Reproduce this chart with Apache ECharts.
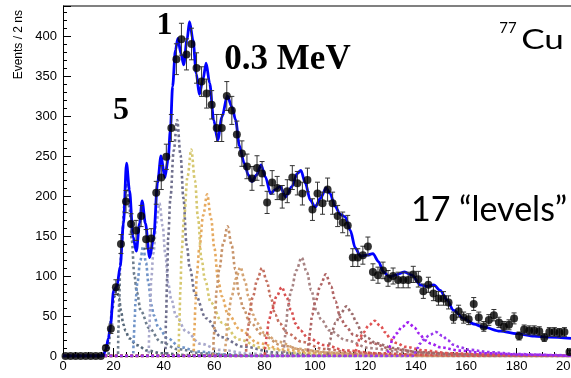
<!DOCTYPE html>
<html><head><meta charset="utf-8">
<script src="https://cdn.jsdelivr.net/npm/echarts@6/dist/echarts.min.js"></script>
<style>html,body{margin:0;padding:0;background:#fff}#c{width:571px;height:378px}</style>
</head><body><div id="c"></div>
<script>
// ---- data ----
const binCenters = [1,3,5,7,9,11,13,15,17,19,21,23,25,27,29,31,33,35,37,39,41,43,45,47,49,51,53,55,57,59,61,63,65,67,69,71,73,75,77,79,81,83,85,87,89,91,93,95,97,99,101,103,105,107,109,111,113,115,117,119,121,123,125,127,129,131,133,135,137,139,141,143,145,147,149,151,153,155,157,159,161,163,165,167,169,171,173,175,177,179,181,183,185,187,189,191,193,195,197,199,201];
const counts = [0,0,0,0,0,0,0,0,10,34,86,140,193,165,157,175,146,147,204,223,249,285,371,396,377,390,360,343,328,314,285,285,325,307,277,253,237,222,235,228,192,217,210,199,206,223,216,203,220,183,203,191,208,191,175,167,163,123,123,126,137,105,101,107,97,100,95,95,95,102,96,81,89,78,72,72,67,48,56,48,46,65,48,37,45,51,42,37,39,47,25,33,32,32,31,23,30,30,29,30,5];

const fitX = [0,15,16,17,18,18.8,20.1,21.4,22.7,24,25.2,26.4,27.8,29.1,30.4,31.4,32.7,34.4,36,37.5,38.9,40.4,41.7,42.6,43.5,44.6,45.6,46.8,47.9,49.2,50.2,51.6,52.9,54.1,55.5,56.8,58.2,59.8,61.4,63.1,65.2,67.1,68.5,70,71.9,73.6,75,76.7,78.6,80.3,82.4,84.2,86.2,88.3,90.9,92.9,94.4,96.2,98.1,100.1,102.1,104.5,106,108,110,112,114,116,118,120.6,123,125.2,127.2,129.6,131.9,135.5,138.5,141.8,144.4,147.1,149.7,152.4,155,159,163,167,173.5,180,187,193,201.6];
const fitY = [0,0,1,8,22,37,82,87,112,166,241,207,149,131,166,194,166,123,149,216,250,223,245,282,337,382,397,378,364,395,418,395,353,327,345,366,341,295,270,299,325,311,295,263,241,226,218,226,239,224,203,208,212,199,212,228,232,216,195,186,197,210,203,187,177,174,157,135,125,126,128,118,105,99,101,105,101,89,87,89,82,70,57,47,40,36,31,28,25,23.5,22];

const levelPos    = [21.3, 25.4, 31.8, 38.3, 45.3, 50.9, 57.2, 65.3, 70.4, 79.0, 86.8, 94.7, 104.3, 112.5, 123.7, 137.0, 148.0];
const levelHeight = [85, 216, 137, 191, 295, 258, 202, 162, 111, 110, 86, 123, 102, 62, 44, 42, 30];
const levelWidth  = [0.45, 0.5, 0.55, 0.6, 0.65, 0.7, 0.75, 0.8, 0.85, 0.9, 0.95, 1.0, 1.0, 1.05, 1.1, 1.15, 1.2];
const levelColor  = ['#56687a','#6f7e8e','#7094c8','#a9a9cc','#70708e','#d6c870','#e6aa60','#c8946a','#d4a474','#c47060','#d85050','#a88484','#b06464','#9c6c6c','#e05454','#a020f0','#9838ee'];
// shape of one level (read from the isolated level near 95 ns): offset -> relative height
const profileOffset = [-7.2,-6.8,-6.1,-5.5,-4.1,-2.1,0,2.1,3.8,5.8,7.8,11,17.7,27,40,60,90];
const profileRel    = [0,0.16,0.33,0.5,0.67,0.87,1,0.85,0.67,0.47,0.37,0.26,0.16,0.08,0.04,0.015,0];

const xTicks = [0,20,40,60,80,100,120,140,160,180,200];
const yTicks = [0,50,100,150,200,250,300,350,400];

// ---- build ----
const XMAX = 201.6, YMAX = 437.5;
const pts = binCenters.map((x,i)=>[x, counts[i]]);
const errs = binCenters.map((x,i)=>[x, counts[i]-Math.sqrt(counts[i]), counts[i]+Math.sqrt(counts[i])]);
const fit = fitX.map((x,i)=>[x, fitY[i]]);

const levelSeries = levelPos.map((p,k)=>{
  const d = [[0,0]];
  profileOffset.forEach((o,j)=>{
    const x = p + o*levelWidth[k];
    if (x > 0 && x < XMAX) d.push([x, levelHeight[k]*profileRel[j]]);
  });
  if (d[d.length-1][0] < XMAX) d.push([XMAX, 0]);
  return {
    type:'line', data:d, symbol:'none', smooth:0.35, smoothMonotone:'x', z:2,
    lineStyle:{color:levelColor[k], width:2.6, type:[2.6,2.6]}, silent:true, animation:false
  };
});

const chart = echarts.init(document.getElementById('c'), null, {renderer:'canvas'});
chart.setOption({
  animation:false,
  backgroundColor:'#fff',
  grid:{left:63, right:0, top:6, bottom:22, containLabel:false, outerBoundsMode:'none'},
  xAxis:{type:'value', min:0, max:XMAX, interval:20,
    axisLine:{lineStyle:{color:'#000', width:1}},
    axisTick:{inside:true, length:8, lineStyle:{color:'#000'}},
    minorTick:{show:true, splitNumber:4, length:4, lineStyle:{color:'#000'}},
    splitLine:{show:false},
    axisLabel:{color:'#000', fontSize:13, fontFamily:'Liberation Sans', margin:4, hideOverlap:false,
      showMaxLabel:true,
      formatter:v=> xTicks.indexOf(v)>=0 ? String(v) : ''}
  },
  yAxis:{type:'value', min:0, max:YMAX, interval:50,
    axisLine:{show:true, lineStyle:{color:'#000', width:1}},
    axisTick:{inside:true, length:8, lineStyle:{color:'#000'}},
    minorTick:{show:true, splitNumber:5, length:4, lineStyle:{color:'#000'}},
    splitLine:{show:false},
    axisLabel:{color:'#000', fontSize:13, fontFamily:'Liberation Sans', margin:6,
      formatter:v=> yTicks.indexOf(v)>=0 ? String(v) : ''}
  },
  series:[
    ...levelSeries,
    {type:'line', data:fit, symbol:'none', smooth:0.3, smoothMonotone:'x', z:3,
      lineStyle:{color:'#0000ff', width:2.8}, silent:true},
    {type:'custom', z:4, data:errs, silent:true,
      renderItem:(params, api)=>{
        const x = api.value(0), lo = api.value(1), hi = api.value(2);
        if (hi - lo <= 0) return null;
        const a = api.coord([x, lo]), b = api.coord([x, hi]);
        const st = {stroke:'#333', lineWidth:1};
        return {type:'group', children:[
          {type:'line', shape:{x1:a[0], y1:a[1], x2:b[0], y2:b[1]}, style:st},
          {type:'line', shape:{x1:a[0]-2.5, y1:a[1], x2:a[0]+2.5, y2:a[1]}, style:st},
          {type:'line', shape:{x1:b[0]-2.5, y1:b[1], x2:b[0]+2.5, y2:b[1]}, style:st}
        ]};
      }},
    {type:'scatter', data:pts, symbol:'circle', symbolSize:8, z:5,
      itemStyle:{color:'#000'}, silent:true}
  ],
  graphic:[
    {type:'line', shape:{x1:63, y1:6, x2:571, y2:6}, style:{stroke:'#808080', lineWidth:2}},
    {type:'text', x:19, y:10, rotation:Math.PI/2,
      style:{text:'Events / 2 ns', font:'12px "Liberation Sans"', fill:'#000', align:'right', verticalAlign:'middle'}},
    {type:'text', x:164.5, y:26, style:{text:'1', font:'bold 32px "Liberation Serif"', fill:'#000', align:'center', verticalAlign:'middle'}},
    {type:'text', x:121, y:111, style:{text:'5', font:'bold 32px "Liberation Serif"', fill:'#000', align:'center', verticalAlign:'middle'}},
    {type:'text', x:287.5, y:60, style:{text:'0.3 MeV', font:'bold 35px "Liberation Serif"', fill:'#000', align:'center', verticalAlign:'middle'}},
    {type:'text', x:508, y:28, style:{text:'77', font:'15px Lato', fill:'#000', align:'center', verticalAlign:'middle'}},
    {type:'text', x:542.5, y:41, scaleX:1.35, style:{text:'Cu', font:'26px Lato', fill:'#000', align:'center', verticalAlign:'middle'}},
    {type:'text', x:489, y:210, style:{text:'17 \u201clevels\u201d', font:'34px Lato', fill:'#000', align:'center', verticalAlign:'middle'}}
  ]
});
</script></body></html>
